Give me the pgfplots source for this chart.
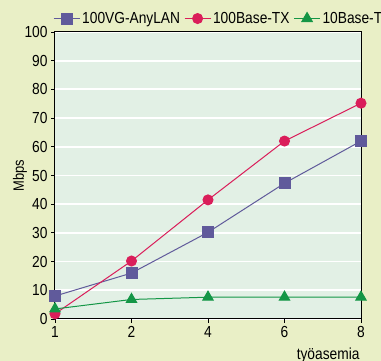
\documentclass[border=0pt]{standalone}
\usepackage{fontspec}
\setmainfont{Liberation Sans}[FakeStretch=0.86]
\usepackage{pgfplots}
\pgfplotsset{compat=1.18}
\definecolor{pagebg}{RGB}{233,239,198}
\definecolor{plotbg}{RGB}{226,240,229}
\definecolor{vg}{RGB}{96,90,155}
\definecolor{tx}{RGB}{218,30,90}
\definecolor{bt}{RGB}{20,150,70}
\begin{document}
\begin{tikzpicture}[x=1pt,y=1pt]
\useasboundingbox (0,0) rectangle (381,361);
\fill[pagebg] (0,0) rectangle (381,361);
\clip (0,0) rectangle (381,361);
\begin{axis}[
  at={(55pt,42pt)}, anchor=south west,
  scale only axis, width=306pt, height=287pt,
  xmin=0, xmax=4, ymin=0, ymax=100,
  xtick={0,1,2,3,4}, xticklabels={1,2,4,6,8},
  ytick={0,10,...,100},
  axis background/.style={fill=plotbg},
  ymajorgrids, grid style={white, line width=1.8pt},
  axis line style={black, line width=1pt},
  tick style={black, line width=0.8pt},
  tick align=outside, major tick length=4pt,
  xtick pos=bottom, ytick pos=left,
  tick label style={font=\fontsize{16}{18}\selectfont},
  /pgf/number format/assume math mode=true,
  ylabel={Mbps}, ylabel style={font=\fontsize{15}{17}\selectfont, at={(axis description cs:-0.114,0.5)}, anchor=center},
  xlabel={työasemia}, xlabel style={font=\fontsize{16}{18}\selectfont, at={(axis description cs:1,0)}, anchor=north east, yshift=-25pt, xshift=2pt},
  clip=false,
  legend columns=3,
  legend style={draw=none, fill=none, at={(-2pt,309pt)}, anchor=north west, font=\fontsize{16}{18}\selectfont, /tikz/every even column/.append style={column sep=2pt}, inner sep=0pt},
  legend cell align=left,
  legend image code/.code={\draw[mark repeat=2,mark phase=2] plot coordinates {(0pt,0pt)(13pt,0pt)(26pt,0pt)};},
  every axis plot/.append style={line width=1pt},
]
\addplot[vg, mark=square*, mark size=5.5pt, mark options={solid,fill=vg}] coordinates {(0,8) (1,16) (2,30.2) (3,47.3) (4,62)};
\addlegendentry{100VG-AnyLAN}
\addplot[tx, mark=*, mark size=5pt, mark options={solid,fill=tx}] coordinates {(0,1.8) (1,20.2) (2,41.5) (3,62) (4,75.2)};
\addlegendentry{100Base-TX}
\addplot[bt, mark=triangle*, mark size=6pt, mark options={solid,fill=bt}] coordinates {(0,3.5) (1,6.8) (2,7.6) (3,7.6) (4,7.6)};
\addlegendentry{10Base-T}
\end{axis}
\end{tikzpicture}
\end{document}
